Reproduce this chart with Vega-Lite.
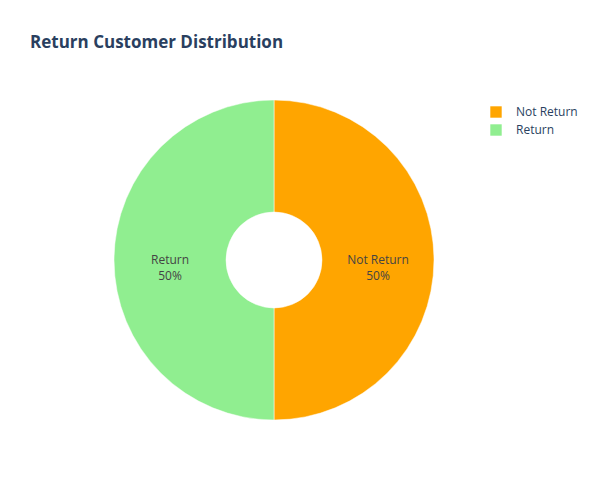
{
  "$schema": "https://vega.github.io/schema/vega-lite/v6.json",
  "autosize": "none",
  "width": 548,
  "height": 400,
  "padding": {"top": 60, "left": 0, "right": 52, "bottom": 40},
  "background": "white",
  "title": {
    "text": "Return Customer Distribution",
    "anchor": "start",
    "frame": "group",
    "dx": 30,
    "offset": 8,
    "font": "Open Sans",
    "fontSize": 17,
    "fontWeight": "bold",
    "color": "#2a3f5f"
  },
  "data": {
    "values": [
      {"status": "Not Return", "share": 50, "label": "Not Return\n50%"},
      {"status": "Return", "share": 50, "label": "Return\n50%"}
    ]
  },
  "encoding": {
    "theta": {"field": "share", "type": "quantitative", "stack": true},
    "order": {"field": "status", "sort": "ascending"}
  },
  "layer": [
    {
      "mark": {"type": "arc", "outerRadius": 160, "innerRadius": 48, "stroke": "white", "strokeWidth": 0.5},
      "encoding": {
        "color": {
          "field": "status",
          "type": "nominal",
          "scale": {"domain": ["Not Return", "Return"], "range": ["#FFA500", "#90EE90"]},
          "legend": {
            "title": null,
            "orient": "none",
            "legendX": 490,
            "legendY": 46,
            "symbolType": "square",
            "symbolSize": 130,
            "symbolStrokeWidth": 0,
            "labelFont": "Open Sans",
            "labelFontSize": 12,
            "labelColor": "#2a3f5f",
            "labelOffset": 14,
            "rowPadding": 6
          }
        }
      }
    },
    {
      "mark": {"type": "text", "radius": 104, "font": "Open Sans", "fontSize": 12, "color": "#444", "lineBreak": "\n", "lineHeight": 16, "baseline": "middle"},
      "encoding": {"text": {"field": "label"}}
    }
  ]
}
